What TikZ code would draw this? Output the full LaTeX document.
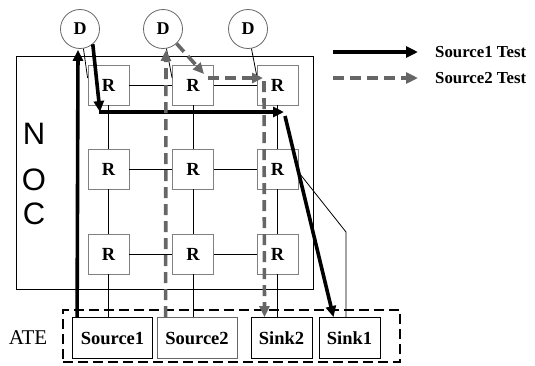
\documentclass[tikz,border=0pt]{standalone}
\usepackage{fontspec}
\setmainfont{Liberation Serif}
\newfontfamily\nocfont{Liberation Sans}
\usetikzlibrary{arrows.meta,calc}
\begin{document}
\begin{tikzpicture}[x=1pt,y=-1pt,
  router/.style={draw=black!50, line width=0.8pt, fill=white, minimum width=41pt, minimum height=40pt, inner sep=0pt, font=\bfseries\fontsize{18.5}{18.5}\selectfont},
  dnode/.style={draw=black!60, line width=0.8pt, circle, fill=white, minimum size=39pt, inner sep=0pt, font=\bfseries\fontsize{18}{18}\selectfont},
  atebox/.style={draw=black, line width=0.8pt, fill=white, minimum height=41pt, inner sep=0pt, font=\bfseries\fontsize{18.5}{18.5}\selectfont},
  link/.style={black, line width=0.8pt},
  testone/.style={black, line width=3.6pt, -{Triangle[length=11pt,width=10pt]}},
  testtwo/.style={black!60, line width=3.6pt, dash pattern=on 11pt off 6pt, -{Triangle[length=11pt,width=10pt]}},
  letter/.style={font=\nocfont\fontsize{31}{31}\selectfont, inner sep=0pt},
  legendtext/.style={font=\bfseries\fontsize{16.8}{16.8}\selectfont, anchor=west, inner sep=0pt}
]
\useasboundingbox (0,0) rectangle (535,365);

% NOC frame
\node[draw=black, line width=1pt, minimum width=297pt, minimum height=233pt, inner sep=0pt] (noc) at (164.5,172.5) {};
\node[letter] (ln) at (34,133.5) {N};
\node[letter] (lo) at (34,180) {O};
\node[letter] (lc) at (34,214) {C};

% ATE frame
\node[draw=black, line width=2pt, dash pattern=on 10pt off 5pt, minimum width=337pt, minimum height=52pt, inner sep=0pt] (ate) at (231.5,336) {};
\node[font=\fontsize{21}{21}\selectfont, inner sep=0pt] (atel) at (28,338) {ATE};

% routers
\node[router] (r11) at (108.5,85) {R};
\node[router] (r12) at (193,85) {R};
\node[router] (r13) at (277.5,85) {R};
\node[router] (r21) at (108.5,169) {R};
\node[router] (r22) at (193,169) {R};
\node[router] (r23) at (277.5,169) {R};
\node[router] (r31) at (108.5,254) {R};
\node[router] (r32) at (193,254) {R};
\node[router] (r33) at (277.5,254) {R};

% D nodes
\node[dnode] (d1) at (80,29) {D};
\node[dnode] (d2) at (163,29) {D};
\node[dnode] (d3) at (248,29) {D};

% ATE blocks
\node[atebox, minimum width=80pt] (src1) at (112.5,338) {Source1};
\node[atebox, minimum width=80pt, draw=black!60] (src2) at (197,338) {Source2};
\node[atebox, minimum width=61pt] (snk2) at (281.5,338) {Sink2};
\node[atebox, minimum width=61pt] (snk1) at (349.5,338) {Sink1};

% mesh links
\foreach \a/\b in {r11/r12,r12/r13,r21/r22,r22/r23,r31/r32,r32/r33,r11/r21,r12/r22,r13/r23,r21/r31,r22/r32,r23/r33}
  \draw[link] (\a) -- (\b);
\draw[link] (r31.south) -- (r31.south |- src1.north);
\draw[link] (r32.south) -- (r32.south |- src2.north);
\draw[link] (r33.south) -- (r33.south |- snk2.north);

% D links
\draw[link] (d1.-80) -- ([yshift=7pt]r11.west);
\draw[link] (d2.-80) -- ([yshift=7pt]r12.west);
\draw[link] (d3.-80) -- ([yshift=10pt]r13.west);

% sink1 wire
\coordinate (kink) at (346,232);
\draw[link] ([yshift=-3pt]r23.east) -- (kink) -- (kink |- snk1.north);

% Source1 test path
\coordinate (a1s) at ($(src1.north west)+(5,0)$);
\coordinate (a1e) at ($(d1.south)+(-2,1)$);
\coordinate (b1e) at (100,112);
\coordinate (c1e) at (284,112);
\coordinate (e1s) at (285,116);
\draw[testone] (a1s) -- (a1e);
\draw[testone] (d1.-50) -- (b1e);
\draw[testone, shorten <=-1.5pt] (b1e) -- (c1e);
\draw[testone] (e1s) -- ([xshift=-16pt]snk1.north);

% Source2 test path
\coordinate (a2s) at ($(src2.north west)+(9,0)$);
\coordinate (a2e) at (166,50);
\coordinate (b2e) at (204,74);
\coordinate (c2s) at (208,78);
\coordinate (c2e) at (263,78);
\coordinate (e2s) at (264,81);
\draw[testtwo] (a2s) -- (a2e);
\draw[testtwo] (d2.-47) -- (b2e);
\draw[testtwo] (c2s) -- (c2e);
\draw[testtwo] (e2s) -- ([xshift=-17pt]snk2.north);

% legend
\coordinate (l1s) at (333,52);
\coordinate (l1e) at (418,52);
\coordinate (l2s) at (333,78);
\coordinate (l2e) at (418,78);
\draw[testone, line width=4pt, -{Triangle[length=12pt,width=11pt]}] (l1s) -- (l1e);
\draw[testtwo, line width=4pt, -{Triangle[length=12pt,width=11pt]}] (l2s) -- (l2e);
\node[legendtext] (lt1) at (435,52) {Source1 Test};
\node[legendtext] (lt2) at (435,78) {Source2 Test};
\end{tikzpicture}
\end{document}
